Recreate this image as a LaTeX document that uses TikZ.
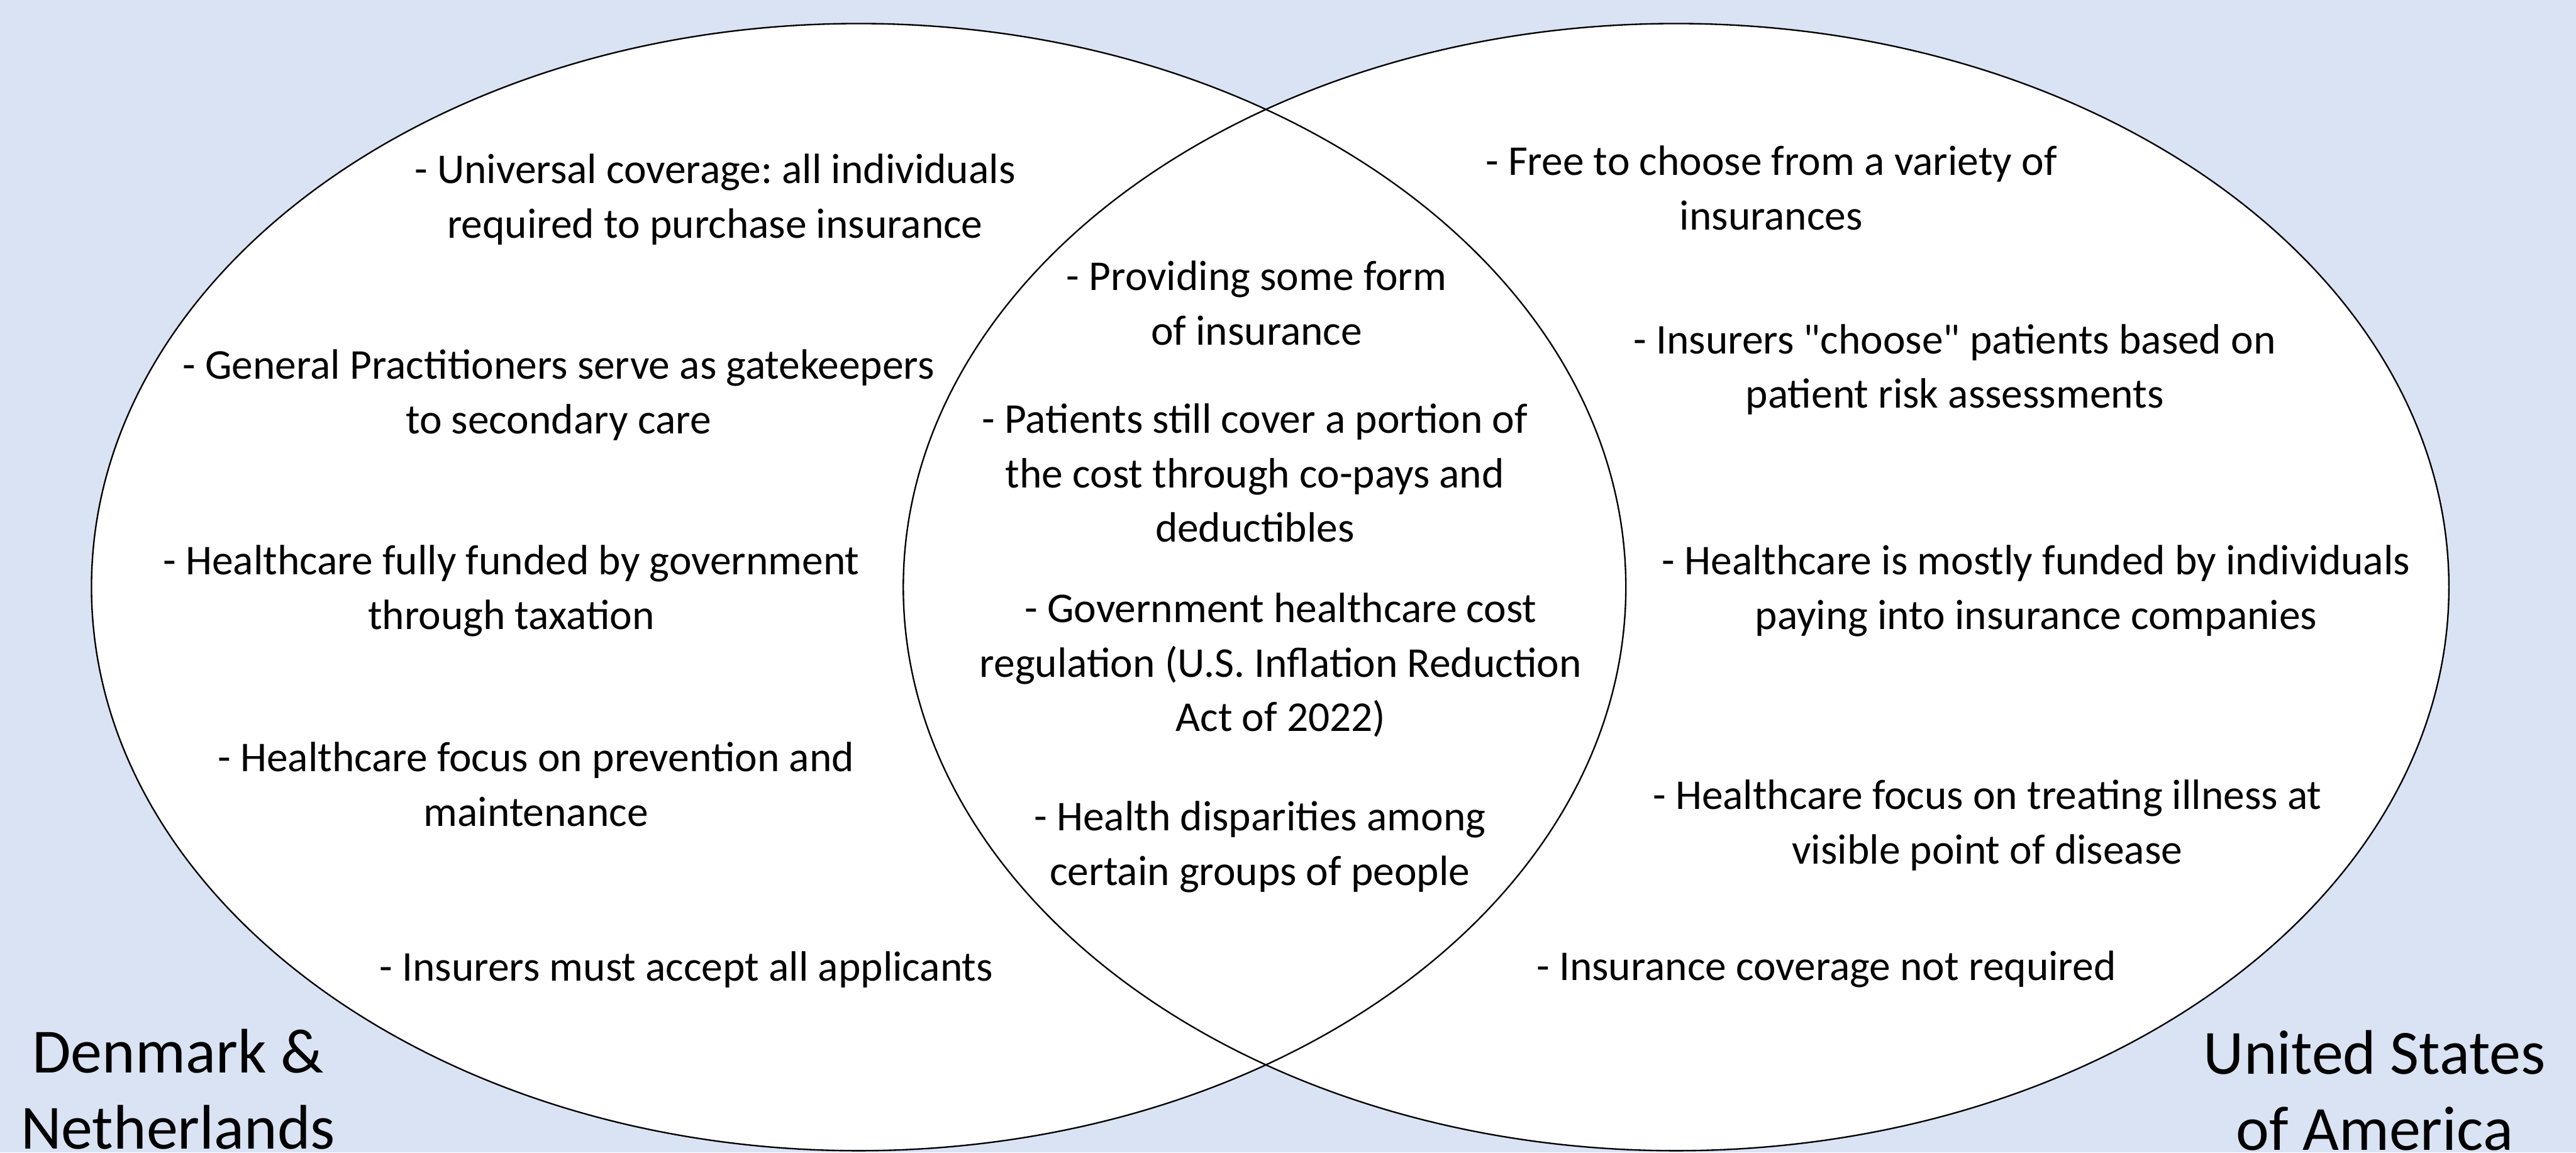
\documentclass[tikz,border=0pt]{standalone}
\usepackage{fontspec}
\setmainfont{Carlito}
\frenchspacing
\definecolor{bgblue}{HTML}{DAE3F3}

\begin{document}
\begin{tikzpicture}[
  point/.style={align=center, font=\fontsize{21.5}{27.6}\selectfont, inner sep=0pt},
  country/.style={align=center, font=\fontsize{31.9}{38.4}\selectfont, inner sep=0pt, anchor=south},
  rim/.style={draw=black, line width=0.75pt}
]
% Background
\fill [bgblue] (0,0) rectangle (45.9,20.53);

% Centres of the two sets
\coordinate (dk) at (15.30,10.07);
\coordinate (us) at (29.865,10.07);

% Fill both first, so the outlines stay visible in the overlap
\fill [white] (dk) ellipse [x radius=13.67, y radius=10.04];
\fill [white] (us) ellipse [x radius=13.77, y radius=10.04];
\path [rim] (dk) ellipse [x radius=13.67, y radius=10.04];
\path [rim] (us) ellipse [x radius=13.77, y radius=10.04];

% Left set
\node [point] (dk1) at (12.74,16.975) {- Universal coverage: all individuals\\required to purchase insurance};
\node [point] (dk2) at (9.95,13.49) {- General Practitioners serve as gatekeepers\\to secondary care};
\node [point] (dk3) at (9.11,10.005) {- Healthcare fully funded by government\\through taxation};
\node [point] (dk4) at (9.55,6.555) {- Healthcare focus on prevention and\\maintenance};
\node [point] (dk5) at (12.23,3.26) {- Insurers must accept all applicants};

% Overlap
\node [point] (both1) at (22.39,15.13) {- Providing some form\\of insurance};
\node [point] (both2) at (22.36,12.10) {- Patients still cover a portion of\\the cost through co-pays and\\deductibles};
\node [point] (both3) at (22.82,8.68) {- Government healthcare cost\\regulation (U.S. Inflation Reduction\\Act of 2022)};
\node [point] (both4) at (22.45,5.44) {- Health disparities among\\certain groups of people};

% Right set
\node [point] (us1) at (31.56,17.18) {- Free to choose from a variety of\\insurances};
\node [point] (us2) at (34.83,13.945) {- Insurers \textquotedbl choose\textquotedbl{} patients based on\\patient risk assessments};
\node [point] (us3) at (36.28,10.005) {- Healthcare is mostly funded by individuals\\paying into insurance companies};
\node [point] (us4) at (35.41,5.825) {- Healthcare focus on treating illness at\\visible point of disease};
\node [point] (us5) at (32.54,3.26) {- Insurance coverage not required};

% Set names in the corners
\node [country] (dkname) at (3.17,0.05) {Denmark \&\\Netherlands};
\node [country] (usname) at (42.31,0.03) {United States\\of America};
\end{tikzpicture}
\end{document}
